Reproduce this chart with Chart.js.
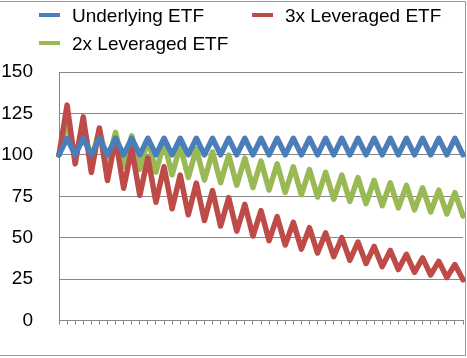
<!DOCTYPE html>
<html>
<head>
<meta charset="utf-8">
<script src="https://cdn.jsdelivr.net/npm/chart.js@4/dist/chart.umd.min.js"></script>
<style>
  html, body { margin: 0; padding: 0; background: #fff; }
  #wrap { position: relative; width: 467px; height: 358px; overflow: hidden; font-family: "Liberation Sans", Arial, sans-serif; }
  #frame { position: absolute; left: -2px; top: 1px; width: 466px; height: 353px; border: 1px solid #9a9a9a; }
  #chart { position: absolute; left: 0; top: 0; }
  .lg { position: absolute; font-size: 19px; line-height: 20px; color: #000; white-space: nowrap; }
  .sw { position: absolute; width: 21px; height: 4px; }
</style>
</head>
<body>
<div id="wrap">
  <div id="frame"></div>
  <canvas id="chart" width="467" height="358"></canvas>
  <div id="legend"></div>
</div>
<script>
// Day index (category axis, no labels shown)
const categories = [0,1,2,3,4,5,6,7,8,9,10,11,12,13,14,15,16,17,18,19,20,21,22,23,24,25,26,27,28,29,30,31,32,33,34,35,36,37,38,39,40,41,42,43,44,45,46,47,48,49,50];

const seriesNames = ["Underlying ETF", "3x Leveraged ETF", "2x Leveraged ETF"];
const seriesColors = ["#4A7EBB", "#BE4B48", "#98B954"];

const underlying = [100,110,100,110,100,110,100,110,100,110,100,110,100,110,100,110,100,110,100,110,100,110,100,110,100,110,100,110,100,110,100,110,100,110,100,110,100,110,100,110,100,110,100,110,100,110,100,110,100,110,100];

const lev3x = [100,130,94.55,122.91,89.39,116.21,84.51,109.87,79.90,103.87,75.54,98.21,71.42,92.85,67.53,87.79,63.84,83.00,60.36,78.47,57.07,74.19,53.96,70.14,51.01,66.32,48.23,62.70,45.60,59.28,43.11,56.05,40.76,52.99,38.54,50.10,36.44,47.37,34.45,44.78,32.57,42.34,30.79,40.03,29.11,37.85,27.53,35.78,26.02,33.83,24.60];

const lev2x = [100,120,98.18,117.82,96.40,115.68,94.64,113.57,92.92,111.51,91.23,109.48,89.57,107.49,87.95,105.54,86.35,103.62,84.78,101.73,83.24,99.88,81.72,98.07,80.24,96.28,78.78,94.53,77.35,92.81,75.94,91.13,74.56,89.47,73.20,87.84,71.87,86.25,70.56,84.68,69.28,83.14,68.02,81.63,66.79,80.14,65.57,78.69,64.38,77.25,63.21];

const yTicks = [0, 25, 50, 75, 100, 125, 150];

const seriesData = [underlying, lev3x, lev2x];
const gridColor = "#878787";

const datasets = seriesNames.map((name, i) => ({
  label: name,
  data: seriesData[i],
  borderColor: seriesColors[i],
  backgroundColor: seriesColors[i],
  borderWidth: 5.5,
  pointRadius: 0,
  pointHoverRadius: 0,
  tension: 0,
  borderJoinStyle: "round",
  borderCapStyle: "round",
  clip: false,
  fill: false
}));

new Chart(document.getElementById("chart"), {
  type: "line",
  data: { labels: categories, datasets: datasets },
  options: {
    responsive: false,
    animation: false,
    events: [],
    layout: { autoPadding: false, padding: { top: 72, right: 4, bottom: 11, left: 0 } },
    plugins: { legend: { display: false }, tooltip: { enabled: false }, title: { display: false } },
    scales: {
      x: {
        type: "category",
        offset: false,
        grid: { drawOnChartArea: false, drawTicks: true, tickLength: 4, color: gridColor, lineWidth: 1 },
        border: { display: true, color: gridColor, width: 1 },
        ticks: { display: false, autoSkip: false }
      },
      y: {
        min: yTicks[0],
        max: yTicks[yTicks.length - 1],
        afterBuildTicks: (scale) => { scale.ticks = yTicks.map(v => ({ value: v })); },
        afterFit: (scale) => { scale.width = 59; },
        grid: { drawTicks: false, color: gridColor, lineWidth: 1 },
        border: { display: true, color: gridColor, width: 1 },
        ticks: {
          padding: 26,
          color: "#000",
          font: { family: "'Liberation Sans', Arial, sans-serif", size: 19 }
        }
      }
    }
  }
});

// HTML legend built from the datasets
const legendPos = [
  { sx: 39, sy: 13, tx: 72, ty: 6 },
  { sx: 252, sy: 13, tx: 285, ty: 6 },
  { sx: 39, sy: 41, tx: 72, ty: 34 }
];
const lg = document.getElementById("legend");
seriesNames.forEach((name, i) => {
  const p = legendPos[i];
  const sw = document.createElement("div");
  sw.className = "sw";
  sw.style.left = p.sx + "px";
  sw.style.top = p.sy + "px";
  sw.style.background = seriesColors[i];
  lg.appendChild(sw);
  const t = document.createElement("div");
  t.className = "lg";
  t.style.left = p.tx + "px";
  t.style.top = p.ty + "px";
  t.textContent = name;
  lg.appendChild(t);
});
</script>
</body>
</html>
